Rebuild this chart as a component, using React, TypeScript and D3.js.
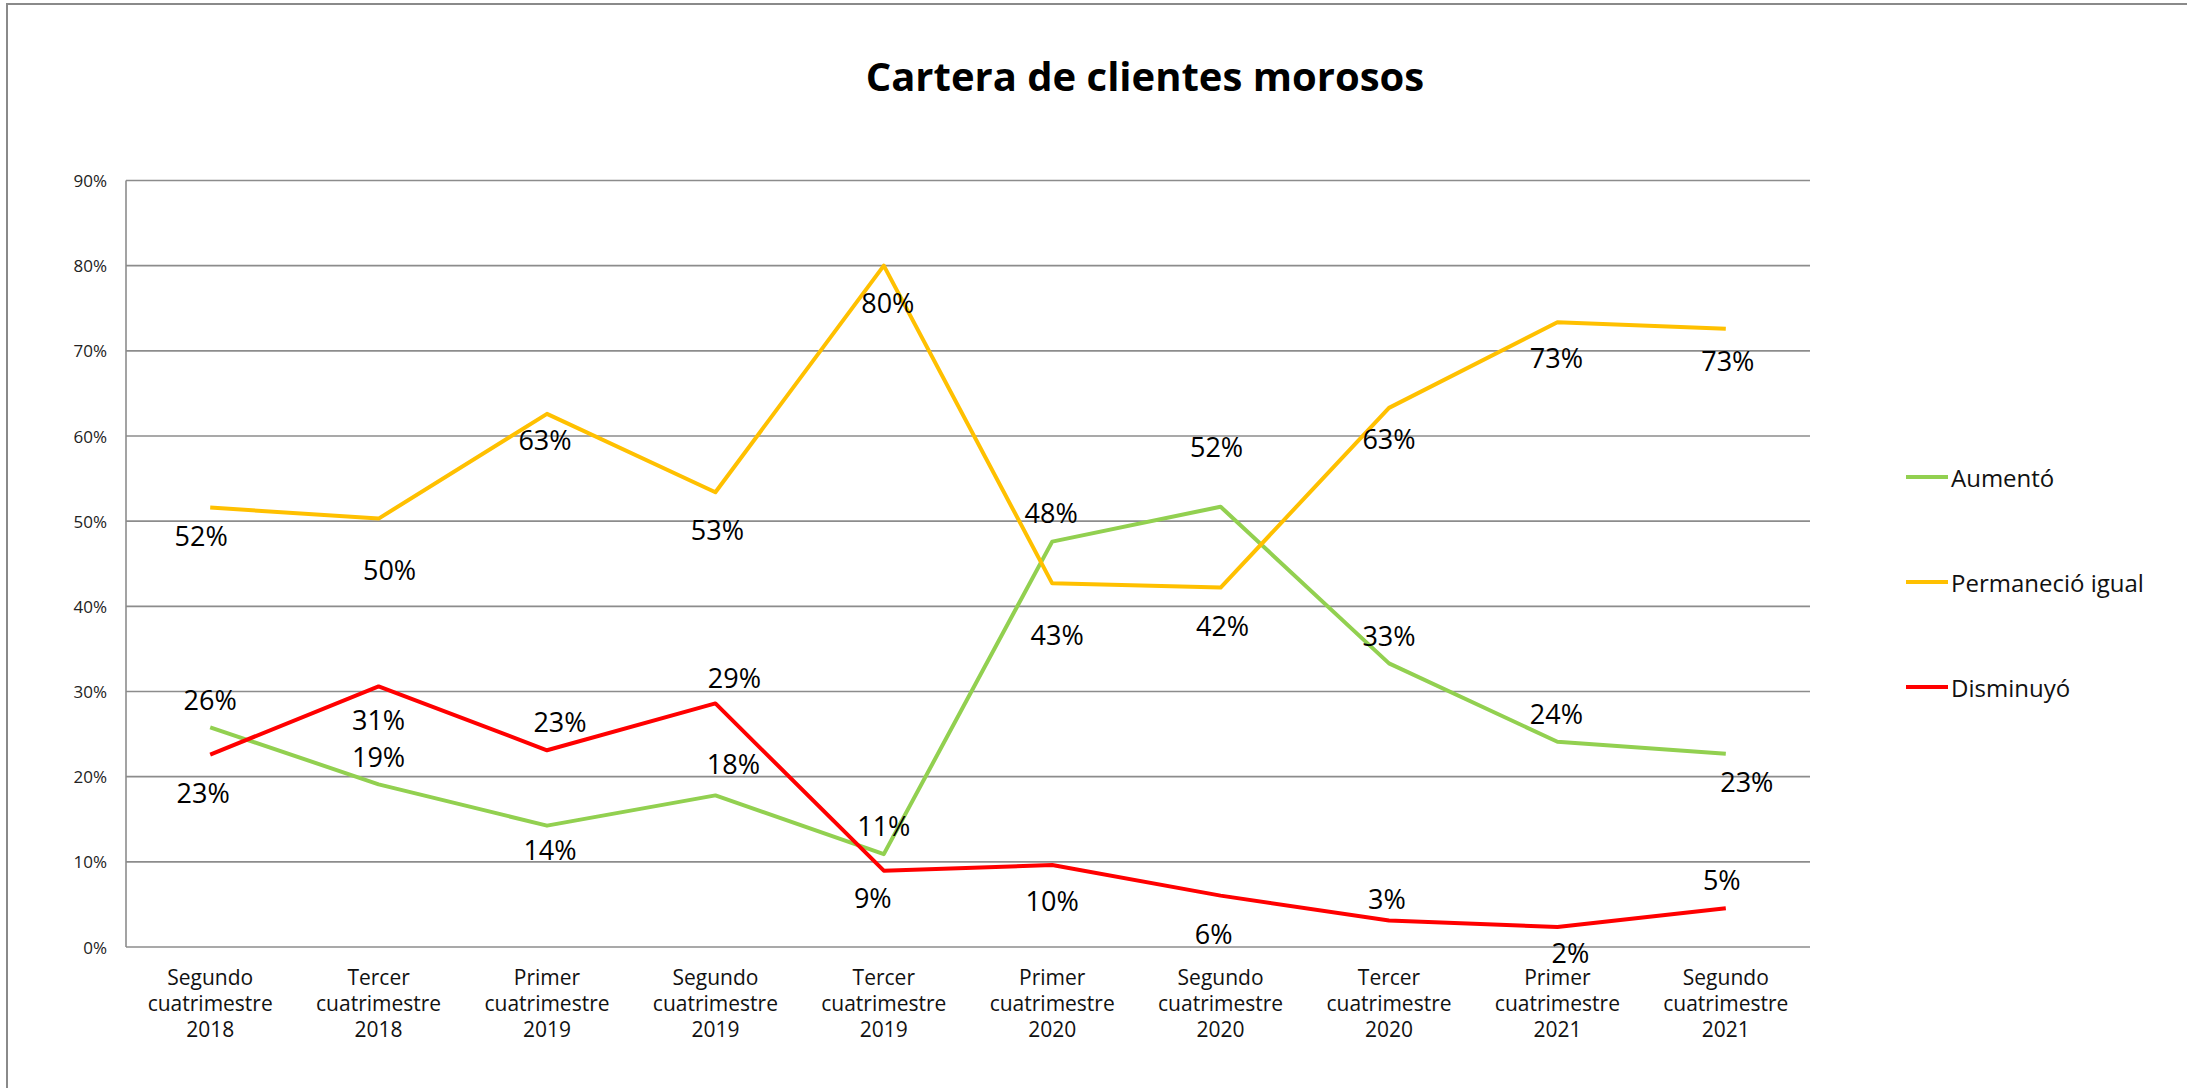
import React from "react";
import * as d3 from "d3";

const categories = [
  "Segundo cuatrimestre 2018",
  "Tercer cuatrimestre 2018",
  "Primer cuatrimestre 2019",
  "Segundo cuatrimestre 2019",
  "Tercer cuatrimestre 2019",
  "Primer cuatrimestre 2020",
  "Segundo cuatrimestre 2020",
  "Tercer cuatrimestre 2020",
  "Primer cuatrimestre 2021",
  "Segundo cuatrimestre 2021",
];

const seriesNames = ["Aumentó", "Permaneció igual", "Disminuyó"];
const aumento = [0.258, 0.191, 0.1425, 0.178, 0.109, 0.476, 0.517, 0.333, 0.241, 0.227];
const permanecio = [0.516, 0.503, 0.626, 0.534, 0.8, 0.427, 0.422, 0.633, 0.7335, 0.726];
const disminuyo = [0.226, 0.306, 0.231, 0.286, 0.0896, 0.0963, 0.0603, 0.031, 0.0235, 0.0454];
const yTicks = [0, 0.1, 0.2, 0.3, 0.4, 0.5, 0.6, 0.7, 0.8, 0.9];
const title = "Cartera de clientes morosos";

// layout only: data label offsets (px) from each point
const offsetsAumento = [[0, -28], [0, -28], [3, 24], [18, -32], [0, -29], [-1, -29], [-4, -60], [0, -28], [-1, -28], [21, 28]];
const offsetsPermanecio = [[-9, 28], [11, 51], [-2, 26], [2, 37], [4, 37], [5, 51], [2, 38], [0, 31], [-1, 35], [2, 32]];
const offsetsDisminuyo = [[-7, 38], [0, 33], [13, -29], [19, -26], [-11, 27], [0, 36], [-7, 38], [-2, -22], [13, 26], [-4, -29]];

const colors = ["#92D050", "#FFC000", "#FF0000"];
const FONT = "'Open Sans', 'Noto Sans', sans-serif";

export default function App() {
  const W = 2187;
  const H = 1088;
  const plot = { left: 126, right: 1810, top: 180.5, bottom: 947 };
  const x = d3.scaleBand<string>().domain(categories).range([plot.left, plot.right]);
  const y = d3.scaleLinear().domain([0, 0.9]).range([plot.bottom, plot.top]);
  const cx = (i: number) => (x(categories[i]) as number) + x.bandwidth() / 2;
  const line = d3
    .line<number>()
    .x((_, i) => cx(i))
    .y((d) => y(d));
  const fmt = d3.format(".0%");

  const series = [
    { name: seriesNames[0], values: aumento, color: colors[0], offsets: offsetsAumento },
    { name: seriesNames[1], values: permanecio, color: colors[1], offsets: offsetsPermanecio },
    { name: seriesNames[2], values: disminuyo, color: colors[2], offsets: offsetsDisminuyo },
  ];
  const legendY = [477, 582, 687];

  return (
    <div style={{ position: "absolute", left: 0, top: 0 }}>
      <svg width={W} height={H} style={{ display: "block", background: "#fff" }}>
        <rect x={0} y={0} width={W} height={H} fill="#fff" />
        <rect x={7} y={4} width={2400} height={1400} fill="none" stroke="#8a8a8a" strokeWidth={2} />
        <text x={1145} y={75} textAnchor="middle" dominantBaseline="central" fontFamily={FONT} fontWeight="bold" fontSize={40} fill="#000">
          {title}
        </text>
        {yTicks.map((t) => (
          <g key={t}>
            <line x1={plot.left} x2={plot.right} y1={y(t)} y2={y(t)} stroke="#8c8c8c" strokeWidth={1.6} />
            <text x={107} y={y(t)} textAnchor="end" dominantBaseline="central" fontFamily={FONT} fontSize={17} fill="#222">
              {fmt(t)}
            </text>
          </g>
        ))}
        <line x1={plot.left} x2={plot.left} y1={plot.top} y2={plot.bottom} stroke="#8c8c8c" strokeWidth={1.6} />
        {categories.map((c, i) => {
          const parts = c.split(" ");
          return (
            <text key={c} textAnchor="middle" fontFamily={FONT} fontSize={21} fill="#111">
              {parts.map((p, j) => (
                <tspan key={j} x={cx(i)} y={977 + j * 26} dominantBaseline="central">
                  {p}
                </tspan>
              ))}
            </text>
          );
        })}
        {series.map((s) => (
          <path key={s.name} d={line(s.values) as string} fill="none" stroke={s.color} strokeWidth={4} strokeLinejoin="round" />
        ))}
        {series.map((s) =>
          s.values.map((v, i) => (
            <text
              key={s.name + i}
              x={cx(i) + s.offsets[i][0]}
              y={y(v) + s.offsets[i][1]}
              textAnchor="middle"
              dominantBaseline="central"
              fontFamily={FONT}
              fontSize={27}
              fill="#000"
            >
              {fmt(v)}
            </text>
          ))
        )}
        {series.map((s, i) => (
          <g key={"leg" + s.name}>
            <line x1={1906} x2={1948} y1={legendY[i]} y2={legendY[i]} stroke={s.color} strokeWidth={4} />
            <text x={1951} y={legendY[i]} dominantBaseline="central" fontFamily={FONT} fontSize={24} fill="#111">
              {s.name}
            </text>
          </g>
        ))}
      </svg>
    </div>
  );
}
